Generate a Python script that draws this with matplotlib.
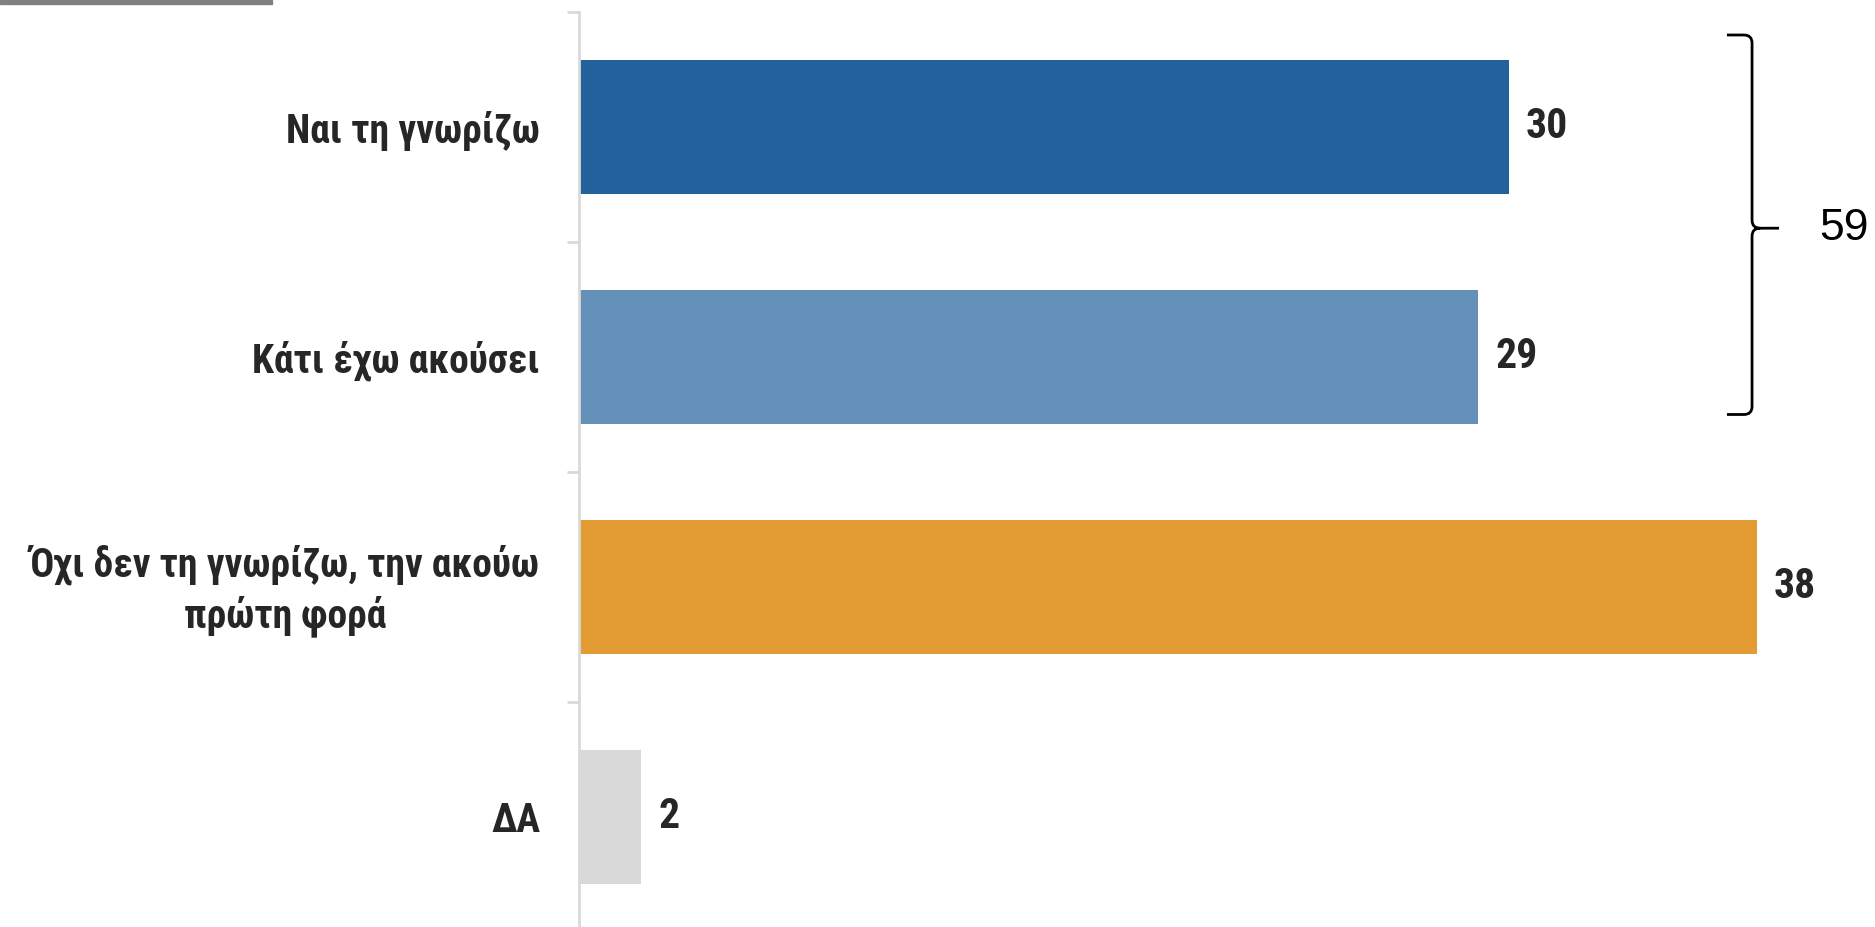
"""Horizontal bar chart: awareness question, with a bracket summing the first two answers."""
import matplotlib
matplotlib.use("Agg")
import matplotlib.pyplot as plt
from matplotlib import font_manager
from matplotlib.font_manager import FontProperties
from matplotlib.path import Path
from matplotlib.patches import PathPatch, Rectangle
from matplotlib.transforms import ScaledTranslation

categories = ["Ναι τη γνωρίζω", "Κάτι έχω ακούσει",
              "Όχι δεν τη γνωρίζω, την ακούω\nπρώτη φορά", "ΔΑ"]
values = [30, 29, 38, 2]
bar_colors = ["#22619C", "#6490BA", "#E39C34", "#D9D9D9"]
group_total = 59          # Ναι + Κάτι έχω ακούσει

TEXT_COLOR = "#262626"


def narrow_bold(size):
    """Bold condensed face if one is installed, otherwise plain bold."""
    prefs = ["liberation sans narrow", "arial narrow", "roboto condensed",
             "dejavu sans condensed", "dejavu sans"]
    found = {}
    for f in font_manager.fontManager.ttflist:
        fname = f.fname.lower()
        is_bold = f.weight in ("bold", 700) or "bold" in fname
        if not is_bold or "oblique" in fname or "italic" in fname:
            continue
        key = f.name.lower()
        if f.stretch == "condensed" or "condensed" in fname:
            if "condensed" not in key and "narrow" not in key:
                key += " condensed"
        found.setdefault(key, f.fname)
    for p in prefs:
        if p in found and ("narrow" in p or "condensed" in p):
            return FontProperties(fname=found[p], size=size), True
    return FontProperties(family="DejaVu Sans", weight="bold", size=size), False


label_font, condensed = narrow_bold(28.5)
value_font, _ = narrow_bold(30)
if not condensed:
    label_font.set_size(22)
    value_font.set_size(25)

W, H = 1875, 927
fig = plt.figure(figsize=(W / 100, H / 100), dpi=100)

# axes placed in pixel terms: spine at x=579, bands of 230px from y=12
ax = fig.add_axes([579 / W, -5 / H, 1296 / W, 920 / H])
px_per_unit = 31.0
ax.set_xlim(0, 1296 / px_per_unit)
ax.set_ylim(3.5, -0.5)

rows = list(range(len(categories)))
ax.barh(rows, values, height=0.58, color=bar_colors, zorder=2)

for y, v in zip(rows, values):
    ax.text(v + 0.55, y, str(v), va="center", ha="left",
            fontproperties=value_font, color=TEXT_COLOR)

# spines / ticks
for side in ("top", "right", "bottom"):
    ax.spines[side].set_visible(False)
ax.spines["left"].set_color("#D9D9D9")
ax.spines["left"].set_linewidth(2)
ax.set_xticks([])
ax.set_yticks(rows)
ax.set_yticklabels(categories, fontproperties=label_font, color=TEXT_COLOR,
                   multialignment="center", linespacing=1.3)
ax.tick_params(axis="y", which="major", length=0, pad=28)
ax.set_yticks([r - 0.5 for r in rows], minor=True)
ax.tick_params(axis="y", which="minor", length=9, width=2, color="#D9D9D9")

# two-line label sits a touch high in the band
for lbl in ax.get_yticklabels():
    if "\n" in lbl.get_text():
        lbl.set_transform(lbl.get_transform()
                          + ScaledTranslation(0, 0.06, fig.dpi_scale_trans))

# curly bracket to the right of the first two bars
x0, x1, tip = 37.03, 37.84, 38.71
top, bot = -0.40, 1.25
mid = (top + bot) / 2 + 0.015
rx, ry = 0.26, 0.035
verts = [(x0, top), (x1 - rx, top), (x1, top), (x1, top + ry),
         (x1, mid - ry), (x1, mid), (x1 + rx, mid), (tip, mid),
         (x1 + rx, mid), (x1, mid), (x1, mid + ry),
         (x1, bot - ry), (x1, bot), (x1 - rx, bot), (x0, bot)]
codes = [Path.MOVETO, Path.LINETO, Path.CURVE3, Path.CURVE3,
         Path.LINETO, Path.CURVE3, Path.CURVE3, Path.LINETO,
         Path.MOVETO, Path.CURVE3, Path.CURVE3,
         Path.LINETO, Path.CURVE3, Path.CURVE3, Path.LINETO]
ax.add_patch(PathPatch(Path(verts, codes), facecolor="none",
                       edgecolor="black", linewidth=2, clip_on=False))
ax.text(40.0, mid, str(group_total), va="center", ha="left", fontsize=32,
        family=["Liberation Sans", "DejaVu Sans"], color="black")

# grey rule in the top-left corner
fig.patches.append(Rectangle((0, 1 - 4 / H), 272 / W, 4 / H,
                             transform=fig.transFigure, color="#808080"))

fig.savefig("out.png", dpi=100)
